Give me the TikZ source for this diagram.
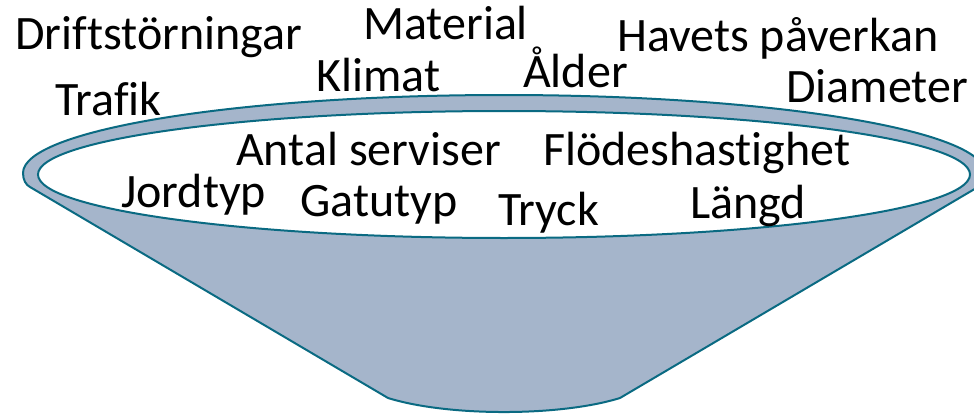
\documentclass[tikz,border=0pt]{standalone}
\usepackage{fontspec}
\setmainfont{Carlito}[Ligatures=NoCommon]
\usetikzlibrary{shapes.geometric}
\definecolor{funnelfill}{HTML}{A5B5CB}
\definecolor{funneledge}{HTML}{0A6A82}
\begin{document}
\begin{tikzpicture}[x=1pt,y=1pt,
  lbl/.style={anchor=base west, inner sep=0pt, font=\fontsize{48}{52}\selectfont},
  funnelbody/.style={fill=funnelfill, draw=funneledge, line width=2pt, line join=round},
  funnelmouth/.style={fill=white, draw=funneledge, line width=2pt}]
\useasboundingbox (0,0) rectangle (974,416);
% funnel body
\path[funnelbody] (23,243) arc[start angle=180, end angle=0, x radius=481, y radius=78]
  .. controls (985,236) and (982,231) .. (978,229)
  -- (620,18)
  .. controls (560,-0.7) and (448,-0.7) .. (388,18)
  -- (30,229)
  .. controls (26,231) and (23,236) .. (23,243) -- cycle;
% inner mouth
\node[funnelmouth, ellipse, minimum width=932pt, minimum height=127pt, inner sep=0pt] (mouth) at (504,241.5) {};
% labels (baseline positions)
\node[lbl] (drift) at (15,366) {Driftstörningar};
\node[lbl] (material) at (363,376) {Material};
\node[lbl] (havet) at (617,364) {Havets påverkan};
\node[lbl] (klimat) at (316,324) {Klimat};
\node[lbl] (alder) at (523,328) {Ålder};
\node[lbl] (trafik) at (55,301) {Trafik};
\node[lbl] (diameter) at (786,314) {Diameter};
\node[lbl] (antal) at (236,251) {Antal serviser};
\node[lbl] (flode) at (543,251) {Flödeshastighet};
\node[lbl] (jord) at (121,209) {Jordtyp};
\node[lbl] (gata) at (300,200) {Gatutyp};
\node[lbl] (tryck) at (498,191) {Tryck};
\node[lbl] (langd) at (690,198) {Längd};
\end{tikzpicture}
\end{document}
